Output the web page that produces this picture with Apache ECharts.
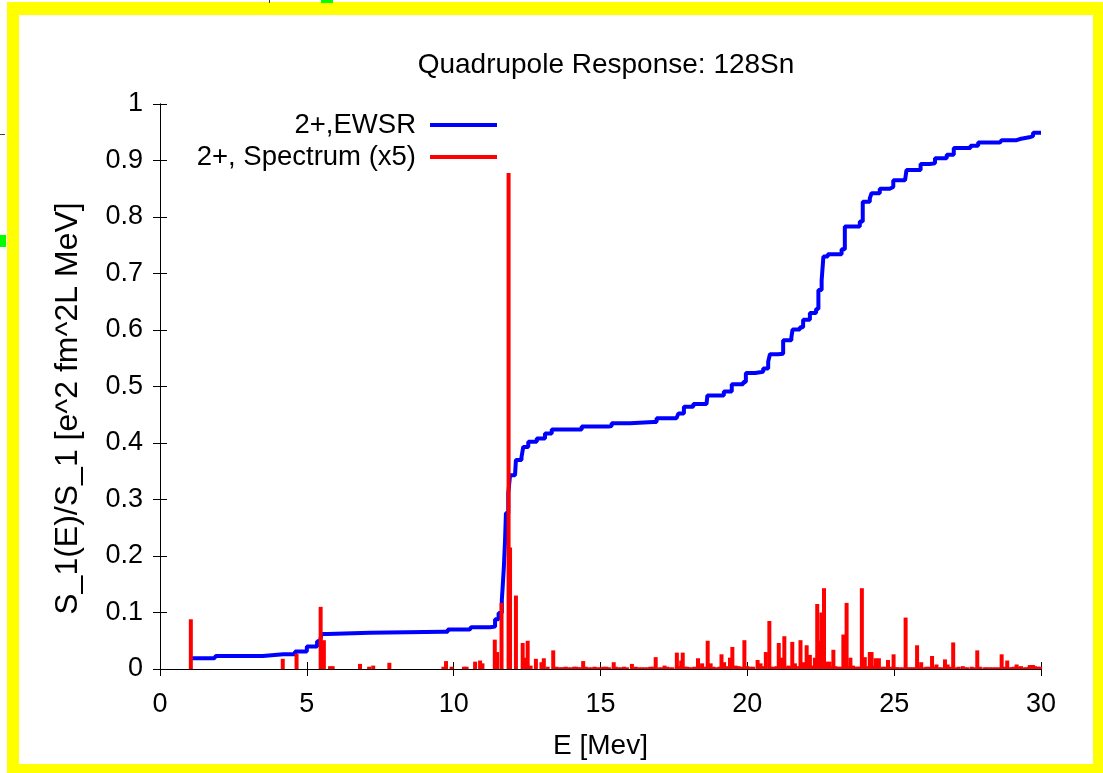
<!DOCTYPE html>
<html>
<head>
<meta charset="utf-8">
<script src="https://cdn.jsdelivr.net/npm/echarts@6/dist/echarts.min.js"></script>
<style>
html,body{margin:0;padding:0;background:#fff;}
#chart{width:1103px;height:773px;}
</style>
</head>
<body>
<div id="chart"></div>
<script>
// Cumulative EWSR fraction (blue)
const ewsrE = [1.0,1.85,1.9,3.4,3.5,4.2,4.6,5.0,5.35,5.45,5.5,5.7,7.15,7.2,9.65,9.8,10.55,10.6,11.24,11.41,11.53,11.64,11.67,11.71,11.75,11.78,11.86,11.92,12.09,12.12,12.31,12.37,12.54,12.83,13.11,13.34,14.07,14.36,15.27,15.38,16.0,16.06,16.8,16.91,17.59,17.65,17.84,18.16,18.61,18.64,19.13,19.2,19.47,19.86,19.95,20.27,20.54,20.71,20.77,21.05,21.22,21.5,21.54,21.79,21.9,22.13,22.34,22.42,22.53,22.59,22.74,23.21,23.32,23.83,23.93,24.17,24.23,24.51,24.85,24.97,25.37,25.42,25.7,25.9,26.21,26.39,26.79,27.03,27.52,27.6,27.86,28.6,28.66,29.17,29.28,29.6,29.73,30.0];
const ewsrS = [0.019,0.019,0.023,0.023,0.026,0.026,0.031,0.040,0.049,0.050,0.062,0.064,0.064,0.066,0.066,0.070,0.070,0.074,0.075,0.088,0.099,0.122,0.146,0.181,0.228,0.276,0.311,0.343,0.345,0.370,0.375,0.393,0.402,0.408,0.417,0.424,0.424,0.429,0.430,0.435,0.435,0.437,0.437,0.444,0.446,0.452,0.464,0.469,0.470,0.484,0.484,0.491,0.504,0.508,0.524,0.526,0.532,0.544,0.557,0.558,0.582,0.587,0.601,0.605,0.618,0.630,0.637,0.671,0.688,0.730,0.734,0.743,0.783,0.792,0.827,0.833,0.842,0.850,0.853,0.865,0.866,0.883,0.883,0.894,0.895,0.904,0.910,0.922,0.922,0.926,0.932,0.932,0.936,0.938,0.941,0.943,0.949,0.950];

// Spectrum (x5), red impulses
const specE = [1.05,4.18,4.65,5.47,5.58,5.79,5.88,6.81,7.12,7.26,7.81,9.65,9.74,9.93,10.35,10.44,10.73,10.9,10.98,11.40,11.48,11.63,11.87,11.92,12.12,12.35,12.43,12.52,12.62,12.8,12.99,13.07,13.2,13.39,13.6,13.75,13.9,14.1,14.25,14.41,14.6,14.8,15.0,15.2,15.45,15.6,15.8,16.07,16.3,16.5,16.7,16.88,17.0,17.18,17.35,17.6,17.75,17.8,17.95,18.1,18.32,18.46,18.65,18.75,18.95,19.12,19.21,19.41,19.49,19.6,19.7,19.9,20.0,20.2,20.35,20.45,20.63,20.75,20.9,21.07,21.17,21.26,21.4,21.53,21.62,21.81,21.9,22.02,22.13,22.3,22.38,22.47,22.52,22.61,22.7,22.8,22.93,23.0,23.1,23.27,23.38,23.51,23.6,23.75,23.9,24.0,24.17,24.23,24.37,24.48,24.6,24.79,24.98,25.1,25.39,25.55,25.78,25.92,26.1,26.29,26.44,26.6,26.73,26.82,27.01,27.2,27.34,27.5,27.64,27.83,28.07,28.25,28.45,28.66,28.75,28.85,29.0,29.17,29.32,29.5,29.62,29.73,29.9,
  13.5,13.68,13.82,14.0,14.18,14.33,14.5,14.7,14.9,15.1,15.3,15.52,15.7,15.9,16.2,16.4,16.6,16.8,17.1,17.27,17.45,17.68,17.88,18.02,18.2,18.4,18.55,18.85,19.05,19.3,19.8,20.1,20.55,20.82,21.0,21.32,21.47,21.7,21.96,22.08,22.2,22.86,23.18,23.45,23.68,23.83,24.08,24.3,24.42,24.7,24.88,25.05,25.2,25.3,25.47,25.63,25.7,25.85,26.0,26.2,26.37,26.52,26.9,27.1,27.42,27.72,27.92,28.15,28.35,28.55,28.95,29.08,29.25,29.42,29.58,29.68,29.8,29.97];
const specS = [0.088,0.018,0.027,0.110,0.051,0.005,0.005,0.009,0.004,0.006,0.011,0.004,0.014,0.004,0.004,0.004,0.013,0.015,0.010,0.052,0.030,0.117,0.878,0.215,0.130,0.046,0.020,0.050,0.006,0.018,0.012,0.019,0.004,0.033,0.003,0.003,0.003,0.004,0.003,0.014,0.003,0.004,0.003,0.004,0.012,0.003,0.004,0.009,0.003,0.003,0.004,0.021,0.003,0.006,0.003,0.029,0.015,0.029,0.004,0.003,0.019,0.010,0.050,0.010,0.003,0.026,0.012,0.020,0.039,0.006,0.005,0.051,0.005,0.004,0.016,0.010,0.030,0.085,0.004,0.046,0.020,0.058,0.006,0.048,0.010,0.051,0.012,0.042,0.025,0.020,0.115,0.050,0.100,0.143,0.013,0.013,0.034,0.005,0.004,0.061,0.117,0.020,0.006,0.004,0.143,0.021,0.030,0.030,0.019,0.019,0.004,0.016,0.026,0.003,0.091,0.003,0.042,0.012,0.004,0.023,0.008,0.003,0.017,0.008,0.047,0.004,0.005,0.003,0.004,0.033,0.003,0.003,0.003,0.026,0.004,0.015,0.003,0.008,0.005,0.003,0.007,0.007,0.004,
  0.004,0.003,0.004,0.003,0.004,0.003,0.004,0.003,0.003,0.004,0.003,0.004,0.003,0.003,0.004,0.003,0.003,0.004,0.003,0.004,0.003,0.005,0.004,0.003,0.004,0.005,0.004,0.004,0.004,0.005,0.004,0.004,0.005,0.004,0.005,0.004,0.004,0.005,0.005,0.006,0.006,0.005,0.004,0.005,0.004,0.004,0.005,0.006,0.006,0.004,0.004,0.003,0.003,0.003,0.003,0.003,0.003,0.004,0.003,0.004,0.004,0.003,0.004,0.003,0.003,0.003,0.004,0.003,0.003,0.003,0.003,0.004,0.004,0.003,0.004,0.006,0.005,0.004];

const titleText = 'Quadrupole Response: 128Sn';
const xName = 'E [Mev]';
const yName = 'S_1(E)/S_1 [e^2 fm^2L MeV]';
const seriesNames = ['2+,EWSR', '2+, Spectrum (x5)'];

const FONT = '"Liberation Sans", Arial, sans-serif';
const chart = echarts.init(document.getElementById('chart'), null, {renderer: 'canvas'});

const axisLine = {show: true, lineStyle: {color: '#000', width: 1}};
const tickIn = {show: true, inside: true, length: 7, lineStyle: {color: '#000', width: 1}};

chart.setOption({
  backgroundColor: '#fff',
  animation: false,
  title: {
    text: titleText,
    left: 601, top: 46, textAlign: 'center',
    textStyle: {fontFamily: FONT, fontSize: 28, fontWeight: 'normal', color: '#000'}
  },
  legend: {
    data: seriesNames,
    orient: 'vertical', align: 'right',
    right: 606, top: 111, padding: 0, itemGap: 4,
    itemWidth: 67, itemHeight: 4,
    icon: 'rect',
    textStyle: {fontFamily: FONT, fontSize: 27.5, color: '#000', lineHeight: 27, padding: [0, 9, 0, 0]}
  },
  grid: {left: 160, right: 62, top: 104, bottom: 104, containLabel: false},
  xAxis: [{
    type: 'value', min: 0, max: 30, interval: 5,
    name: xName, nameLocation: 'middle', nameGap: 63,
    nameTextStyle: {fontFamily: FONT, fontSize: 28, color: '#000'},
    axisLine: axisLine, axisTick: tickIn, splitLine: {show: false},
    axisLabel: {fontFamily: FONT, fontSize: 27, color: '#000', margin: 22}
  }, {
    type: 'value', min: 0, max: 30, interval: 5, position: 'top',
    axisLine: axisLine, axisTick: tickIn, splitLine: {show: false},
    axisLabel: {show: false}
  }],
  yAxis: [{
    type: 'value', min: 0, max: 1, interval: 0.1,
    name: yName, nameLocation: 'middle', nameGap: 76, nameRotate: 90,
    nameTextStyle: {fontFamily: FONT, fontSize: 32, color: '#000', padding: [0, 44, 0, 0]},
    axisLine: axisLine, axisTick: tickIn, splitLine: {show: false},
    axisLabel: {fontFamily: FONT, fontSize: 27, color: '#000', margin: 17}
  }, {
    type: 'value', min: 0, max: 1, interval: 0.1, position: 'right',
    axisLine: axisLine, axisTick: tickIn, splitLine: {show: false},
    axisLabel: {show: false}
  }],
  series: [{
    name: seriesNames[0],
    type: 'line',
    step: 'end',
    data: ewsrE.map((e, i) => [e, ewsrS[i]]),
    showSymbol: false, symbol: 'none',
    lineStyle: {color: '#0000ff', width: 4},
    itemStyle: {color: '#0000ff'},
    z: 3
  }, {
    name: seriesNames[1],
    type: 'bar',
    data: specE.map((e, i) => [e, specS[i]]),
    barWidth: 4,
    itemStyle: {color: '#ff0000'},
    z: 4
  }],
  graphic: [
    {type: 'rect', shape: {x: 7, y: 2, width: 1096, height: 13}, style: {fill: '#ffff00'}, silent: true, z: -1},
    {type: 'rect', shape: {x: 7, y: 764, width: 1096, height: 9}, style: {fill: '#ffff00'}, silent: true, z: -1},
    {type: 'rect', shape: {x: 7, y: 2, width: 12, height: 771}, style: {fill: '#ffff00'}, silent: true, z: -1},
    {type: 'rect', shape: {x: 1093, y: 2, width: 10, height: 771}, style: {fill: '#ffff00'}, silent: true, z: -1},
    {type: 'rect', shape: {x: 321, y: 0, width: 12, height: 3}, style: {fill: '#00ff00'}, silent: true},
    {type: 'rect', shape: {x: 269, y: 0, width: 1, height: 3}, style: {fill: '#333'}, silent: true},
    {type: 'rect', shape: {x: 0, y: 235, width: 6, height: 12}, style: {fill: '#00ff00'}, silent: true},
    {type: 'rect', shape: {x: 0, y: 134, width: 5, height: 1}, style: {fill: '#5a3a2a'}, silent: true}
  ]
});
</script>
</body>
</html>
